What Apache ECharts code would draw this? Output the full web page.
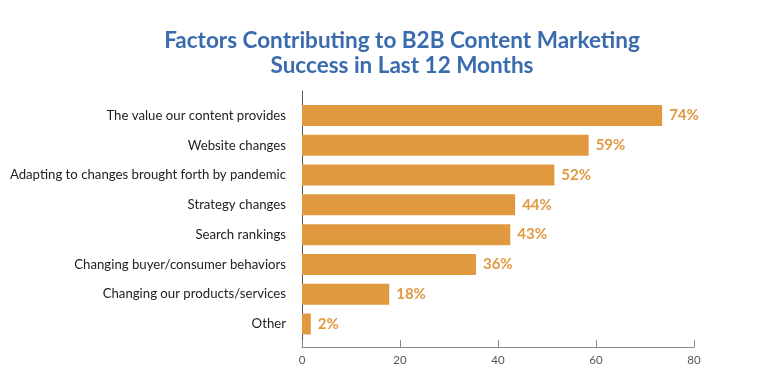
<!DOCTYPE html>
<html>
<head>
<meta charset="utf-8">
<script src="https://cdn.jsdelivr.net/npm/echarts@6/dist/echarts.min.js"></script>
<style>
html,body{margin:0;padding:0;background:#fff;}
#c{width:760px;height:386px;}
</style>
</head>
<body>
<div id="c"></div>
<script>
const titleText = 'Factors Contributing to B2B Content Marketing\nSuccess in Last 12 Months';
const categories = [
  'The value our content provides',
  'Website changes',
  'Adapting to changes brought forth by pandemic',
  'Strategy changes',
  'Search rankings',
  'Changing buyer/consumer behaviors',
  'Changing our products/services',
  'Other'
];
const barValues = [73.5, 58.5, 51.5, 43.5, 42.5, 35.5, 17.8, 1.8];
const labelValues = [74, 59, 52, 44, 43, 36, 18, 2];
const xTicks = [0, 20, 40, 60, 80];

const barColor = '#E0993F';
const chart = echarts.init(document.getElementById('c'), null, {renderer: 'canvas'});
chart.setOption({
  animation: false,
  backgroundColor: '#fff',
  title: {
    text: titleText,
    left: 397,
    textAlign: 'center',
    top: 23,
    textStyle: {
      fontFamily: 'Lato',
      fontWeight: 'bold',
      fontSize: 22.5,
      lineHeight: 25,
      color: '#3A6BAF'
    }
  },
  grid: [
    {left: 302, width: 392, top: 91, height: 256},
    {left: 302, width: 392, top: 100.6, height: 238.3}
  ],
  xAxis: [
    {
      gridIndex: 0, type: 'value', min: xTicks[0], max: xTicks[xTicks.length - 1], interval: 20,
      axisLine: {show: true, lineStyle: {color: '#8a8a8a', width: 1}},
      axisTick: {show: true, inside: true, length: 7, lineStyle: {color: '#8a8a8a'}},
      splitLine: {show: false},
      axisLabel: {color: '#555', fontFamily: 'Lato', fontSize: 11.5, margin: 7}
    },
    {gridIndex: 1, type: 'value', min: 0, max: 80, show: false}
  ],
  yAxis: [
    {
      gridIndex: 0, type: 'value', min: 0, max: 1,
      axisLine: {show: true, lineStyle: {color: '#555', width: 1}},
      axisTick: {show: false}, axisLabel: {show: false}, splitLine: {show: false}
    },
    {
      gridIndex: 1, type: 'category', data: categories, inverse: true,
      axisLine: {show: false}, axisTick: {show: false}, splitLine: {show: false},
      axisLabel: {color: '#222', fontFamily: 'Lato', fontSize: 13.2, margin: 16}
    }
  ],
  series: [{
    type: 'bar',
    xAxisIndex: 1, yAxisIndex: 1,
    data: barValues,
    barWidth: 21,
    itemStyle: {color: barColor},
    label: {
      show: true, position: 'right', distance: 7,
      formatter: p => labelValues[p.dataIndex] + '%',
      color: barColor, fontFamily: 'Lato', fontWeight: 'bold', fontSize: 15
    }
  }]
});
</script>
</body>
</html>
